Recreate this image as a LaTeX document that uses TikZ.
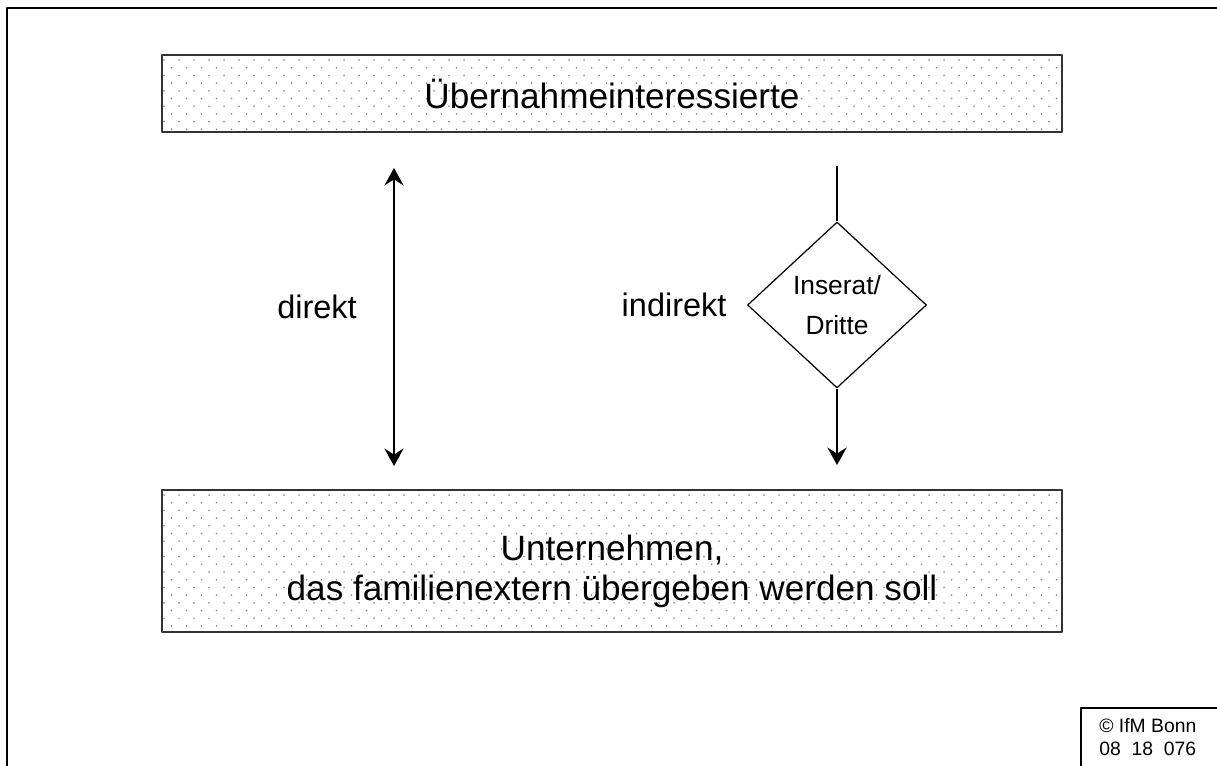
\documentclass[tikz,border=0pt]{standalone}
\usepackage{fontspec}
\setmainfont{Liberation Sans}
\usetikzlibrary{arrows.meta,calc}
\usetikzlibrary{positioning,shapes.geometric,backgrounds}

% Punktraster hinter einem Balken
\newcommand{\punktefeld}[1]{%
  \begin{scope}[on background layer]
  \begin{scope}[shift={(#1.north west)}]
  \clip (#1.south west) rectangle (#1.north east);
  \foreach \r in {0,...,19} {\foreach \c in {0,...,60} {\fill[black!45] ({0.06+\c*0.3+mod(\r,2)*0.15},{-0.12-\r*0.154}) circle (0.019);}}
  \end{scope}
  \end{scope}}

\tikzset{
  balken/.style={draw=black!80,line width=1.1pt,minimum width=18cm,inner sep=0pt,align=center,font=\fontsize{20}{22.8}\selectfont},
  beschriftung/.style={inner sep=0pt,font=\fontsize{18.5}{22}\selectfont},
}

\begin{document}
\begin{tikzpicture}[>={Stealth[length=10pt,width=11pt,inset=3.5pt]},line join=round]
\useasboundingbox (0,0) rectangle (24.34,15.3);
% Rahmen und Quellenfeld
\begin{scope}
\clip (0,0) rectangle (24.34,15.3);
\draw[line width=1.5pt] (0.14,-1) -- (0.14,15.14) -- (25.5,15.14);
\draw[line width=0.6pt] (21.62,-1) -- (21.62,1.14) -- (25.5,1.14);
\end{scope}
\node[anchor=north west,inner sep=0pt,align=left,font=\fontsize{11}{13.3}\selectfont] (quelle) at (21.98,0.94) {© IfM Bonn\\08\ \ 18\ \ 076};
% Balken oben und unten
\node[balken,minimum height=1.54cm] (interessierte) at (12.24,13.43) {Übernahmeinteressierte};
\node[balken,minimum height=2.84cm] (unternehmen) at (12.24,4.08) {};
\node[align=center,inner sep=0pt,font=\fontsize{20}{22.8}\selectfont] (unternehmentext) at ([yshift=-0.2cm]unternehmen.center) {Unternehmen,\\das familienextern übergeben werden soll};
\punktefeld{interessierte}
\punktefeld{unternehmen}
% direkter Weg
\coordinate (direktx) at (7.88,0);
\draw[<->,line width=0.9pt,shorten <=0.7cm,shorten >=0.46cm] (interessierte.south -| direktx) -- (unternehmen.north -| direktx);
\node[beschriftung] (direkt) at (6.34,9.16) {direkt};
% indirekter Weg ueber Inserat/Dritte
\node[draw,diamond,line width=0.7pt,inner sep=0pt,minimum width=3.58cm,minimum height=3.32cm,align=center,font=\fontsize{15}{22.8}\selectfont] (inserat) at (16.74,9.2) {Inserat/\\Dritte};
\draw[line width=0.9pt,shorten <=0.66cm] (interessierte.south -| inserat) -- (inserat.north);
\draw[->,line width=0.9pt,shorten >=0.48cm] (inserat.south) -- (unternehmen.north -| inserat);
\node[beschriftung,left=0.4cm of inserat] (indirekt) {indirekt};
\end{tikzpicture}
\end{document}
